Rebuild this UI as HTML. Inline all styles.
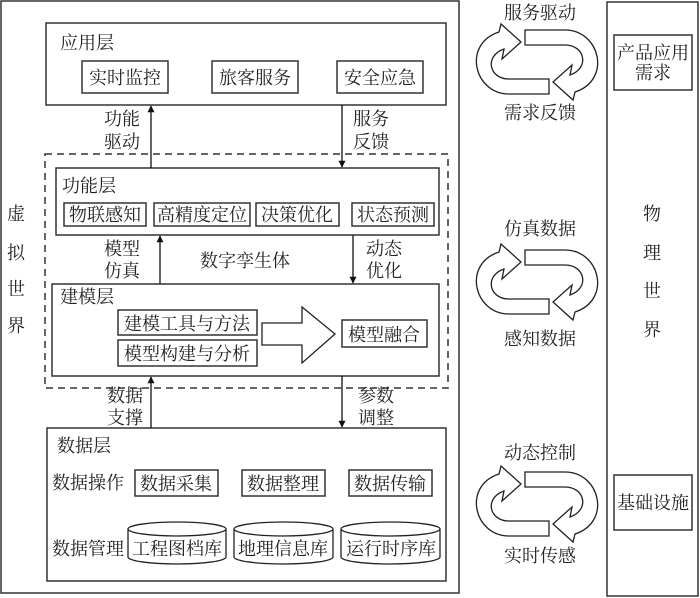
<!DOCTYPE html>
<html><head><meta charset="utf-8"><style>
html,body{margin:0;padding:0;background:#fff;}
svg{display:block;}
text{font-family:"Liberation Serif","Noto Serif CJK SC","Noto Sans CJK SC",serif;font-size:18px;fill:#222;}
</style></head><body>
<svg width="700" height="598" viewBox="0 0 700 598" xmlns="http://www.w3.org/2000/svg">
<defs>
<marker id="ah" viewBox="0 0 10 10" refX="9" refY="5" markerWidth="7" markerHeight="7" markerUnits="userSpaceOnUse" orient="auto"><path d="M0,0 L10,5 L0,10 Z" fill="#111"/></marker>
<g id="cyc" fill="#fff" stroke="#222" stroke-width="1.3">
<path d="M525,30 L565,30 C600,30 612,80 575,92 L573,100 L553,82 L572,65 L570,75 C590,68 585,45 565,45 L525,45 Z"/>
<path d="M549,94 L509,94 C474,94 462,44 499,32 L501,24 L521,42 L502,59 L504,49 C484,56 489,79 509,79 L549,79 Z"/>
</g>
</defs>
<g fill="none" stroke="#333" stroke-width="1.5">
<rect x="1" y="1" width="458" height="592"/>
<rect x="607" y="2" width="91" height="594"/>
<rect x="614" y="35" width="78" height="55"/>
<rect x="614" y="475" width="78" height="55"/>
<rect x="46" y="23" width="400" height="82"/>
<rect x="82" y="61" width="86" height="32"/>
<rect x="212" y="61" width="86" height="32"/>
<rect x="337" y="61" width="86" height="32"/>
<rect x="45" y="154" width="403" height="234" stroke-dasharray="7,5"/>
<rect x="56" y="168" width="383" height="67"/>
<rect x="64" y="203" width="82" height="23"/>
<rect x="154" y="203" width="96" height="23"/>
<rect x="256" y="203" width="83" height="23"/>
<rect x="352" y="203" width="82" height="23"/>
<rect x="52" y="284" width="387" height="92"/>
<rect x="118" y="310" width="139" height="25"/>
<rect x="118" y="340" width="139" height="26"/>
<rect x="342" y="320" width="85" height="27"/>
<rect x="47" y="428" width="399" height="153"/>
<rect x="135" y="470" width="83" height="26"/>
<rect x="242" y="470" width="83" height="26"/>
<rect x="349" y="470" width="83" height="26"/>
</g>
<path d="M262,323 L302,323 L302,307 L335,334 L302,363 L302,345 L262,345 Z" fill="#fff" stroke="#222" stroke-width="1.3"/>
<g fill="#fff" stroke="#222" stroke-width="1.3">
<path d="M128,529 L128,557 A49,7 0 0 0 226,557 L226,529 A49,7 0 0 0 128,529 A49,7 0 0 0 226,529"/>
<path d="M234,529 L234,557 A49.5,7 0 0 0 333,557 L333,529 A49.5,7 0 0 0 234,529 A49.5,7 0 0 0 333,529"/>
<path d="M341,529 L341,557 A49.5,7 0 0 0 440,557 L440,529 A49.5,7 0 0 0 341,529 A49.5,7 0 0 0 440,529"/>
</g>
<g stroke="#111" stroke-width="1.3" marker-end="url(#ah)">
<line x1="151" y1="168" x2="151" y2="106"/>
<line x1="342" y1="105" x2="342" y2="167"/>
<line x1="160" y1="284" x2="160" y2="236"/>
<line x1="353" y1="235" x2="353" y2="283"/>
<line x1="151" y1="428" x2="151" y2="377"/>
<line x1="342" y1="376" x2="342" y2="427"/>
</g>
<use href="#cyc"/>
<use href="#cyc" transform="translate(0,220)"/>
<use href="#cyc" transform="translate(0,442)"/>
<g>
<text x="60" y="49">应用层</text>
<text x="125" y="84" text-anchor="middle">实时监控</text>
<text x="255" y="84" text-anchor="middle">旅客服务</text>
<text x="380" y="84" text-anchor="middle">安全应急</text>
<text x="104" y="125">功能</text><text x="104" y="148">驱动</text>
<text x="353" y="125">服务</text><text x="353" y="148">反馈</text>
<text x="62" y="192">功能层</text>
<text x="105" y="221" text-anchor="middle">物联感知</text>
<text x="202" y="221" text-anchor="middle">高精度定位</text>
<text x="297" y="221" text-anchor="middle">决策优化</text>
<text x="393" y="221" text-anchor="middle">状态预测</text>
<text x="104" y="255">模型</text><text x="104" y="277">仿真</text>
<text x="200" y="267">数字孪生体</text>
<text x="366" y="255">动态</text><text x="366" y="277">优化</text>
<text x="60" y="303">建模层</text>
<text x="187" y="330" text-anchor="middle">建模工具与方法</text>
<text x="187" y="360" text-anchor="middle">模型构建与分析</text>
<text x="384" y="341" text-anchor="middle">模型融合</text>
<text x="107" y="402">数据</text><text x="107" y="424">支撑</text>
<text x="358" y="402">参数</text><text x="358" y="424">调整</text>
<text x="57" y="452">数据层</text>
<text x="52" y="489">数据操作</text>
<text x="176" y="490" text-anchor="middle">数据采集</text>
<text x="283" y="490" text-anchor="middle">数据整理</text>
<text x="390" y="490" text-anchor="middle">数据传输</text>
<text x="52" y="555">数据管理</text>
<text x="177" y="555" text-anchor="middle">工程图档库</text>
<text x="283" y="555" text-anchor="middle">地理信息库</text>
<text x="391" y="555" text-anchor="middle">运行时序库</text>
<text x="16" y="220" text-anchor="middle">虚</text>
<text x="16" y="259" text-anchor="middle">拟</text>
<text x="16" y="295" text-anchor="middle">世</text>
<text x="16" y="332" text-anchor="middle">界</text>
<text x="652" y="220" text-anchor="middle">物</text>
<text x="652" y="259" text-anchor="middle">理</text>
<text x="652" y="297" text-anchor="middle">世</text>
<text x="652" y="336" text-anchor="middle">界</text>
<text x="653" y="59" text-anchor="middle">产品应用</text>
<text x="653" y="79" text-anchor="middle">需求</text>
<text x="653" y="509" text-anchor="middle">基础设施</text>
<text x="540" y="19" text-anchor="middle">服务驱动</text>
<text x="540" y="119" text-anchor="middle">需求反馈</text>
<text x="540" y="235" text-anchor="middle">仿真数据</text>
<text x="540" y="345" text-anchor="middle">感知数据</text>
<text x="540" y="459" text-anchor="middle">动态控制</text>
<text x="540" y="562" text-anchor="middle">实时传感</text>
</g>
</svg>
</body></html>
